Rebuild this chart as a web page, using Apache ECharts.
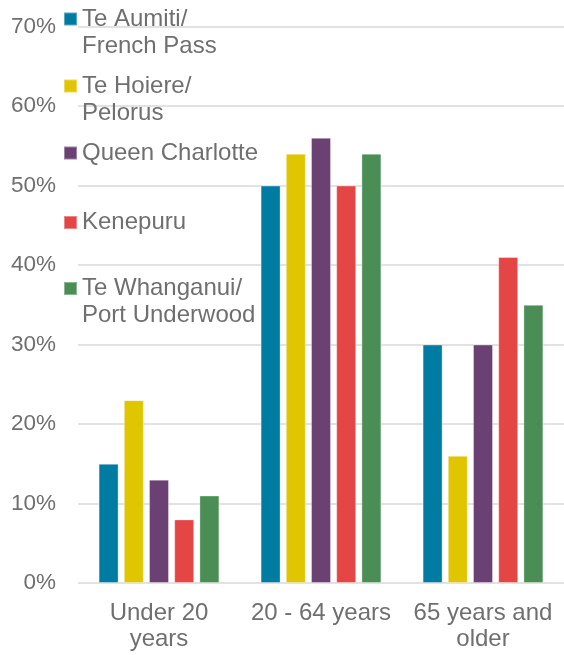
<!DOCTYPE html>
<html>
<head>
<meta charset="utf-8">
<script src="https://cdn.jsdelivr.net/npm/echarts@6/dist/echarts.min.js"></script>
<style>
  html, body { margin: 0; padding: 0; background: #fff; }
  #main { width: 564px; height: 655px; }
</style>
</head>
<body>
<div id="main"></div>
<script>
// 年龄段
var categories = ['Under 20\nyears', '20 - 64 years', '65 years and\nolder']
var areaNames = ['Te Aumiti/\nFrench Pass', 'Te Hoiere/\nPelorus', 'Queen Charlotte', 'Kenepuru', 'Te Whanganui/\nPort Underwood']
var areaColors = ['#007ba2', '#e0c600', '#6a4172', '#e34645', '#4a8e55']
// 各区域百分比
var frenchPass = [15, 50, 30]
var pelorus = [23, 54, 16]
var queenCharlotte = [13, 56, 30]
var kenepuru = [8, 50, 41]
var portUnderwood = [11, 54, 35]
var yTicks = [0, 10, 20, 30, 40, 50, 60, 70]

var seriesValues = [frenchPass, pelorus, queenCharlotte, kenepuru, portUnderwood]
var legendTops = [-21.5, 45.5, 139.5, 209, 248]

var chart = echarts.init(document.getElementById('main'))
var textColor = '#6f6f6f'
var font = 'Liberation Sans, Arial, sans-serif'

var legends = areaNames.map(function (name, i) {
  return {
    data: [name],
    orient: 'vertical',
    left: 63,
    top: legendTops[i],
    padding: 0,
    itemWidth: 13,
    itemHeight: 13,
    icon: 'rect',
    selectedMode: false,
    // 两行的名字前面加空行，让色块对齐第一行
    formatter: function (n) {
      return n.indexOf('\n') >= 0 ? '\n' + n : n
    },
    textStyle: {
      color: textColor,
      fontSize: 24,
      lineHeight: 27,
      fontFamily: font,
      padding: [0, 0, 0, 0]
    }
  }
})

var series = areaNames.map(function (name, i) {
  return {
    name: name,
    type: 'bar',
    barWidth: 20,
    barGap: '26%',
    itemStyle: {
      color: areaColors[i],
      borderColor: 'rgba(255,255,255,0.35)',
      borderWidth: 1
    },
    data: seriesValues[i]
  }
})

var option = {
  animation: false,
  textStyle: { fontFamily: font },
  legend: legends,
  grid: {
    left: 78,
    right: -4,
    top: 26.5,
    bottom: 72,
    containLabel: false
  },
  xAxis: {
    type: 'category',
    data: categories,
    axisLine: { show: false },
    axisTick: { show: false },
    axisLabel: {
      interval: 0,
      color: textColor,
      fontSize: 24,
      lineHeight: 26,
      margin: 17,
      fontFamily: font
    }
  },
  yAxis: {
    type: 'value',
    min: yTicks[0],
    max: yTicks[yTicks.length - 1],
    interval: 10,
    axisLine: { show: false },
    axisTick: { show: false },
    splitLine: { lineStyle: { color: '#d9d9d9', width: 1.5 } },
    axisLabel: {
      color: textColor,
      fontSize: 22.5,
      margin: 22,
      fontFamily: font,
      formatter: '{value}%'
    }
  },
  series: series
}
chart.setOption(option)
</script>
</body>
</html>
